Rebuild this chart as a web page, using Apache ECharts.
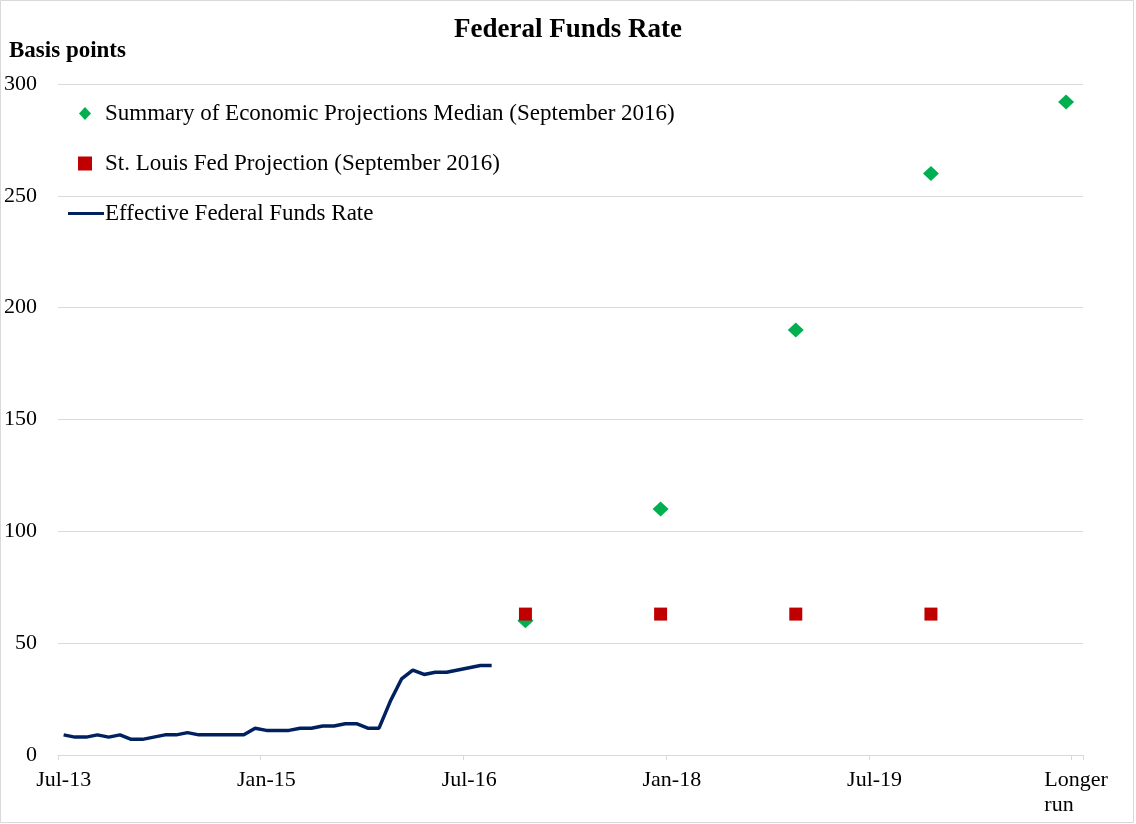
<!DOCTYPE html>
<html>
<head>
<meta charset="utf-8">
<script src="https://cdn.jsdelivr.net/npm/echarts@6/dist/echarts.min.js"></script>
<style>
html,body{margin:0;padding:0;background:#fff;}
#chart{width:1136px;height:824px;}
</style>
</head>
<body>
<div id="chart"></div>
<script>
// Monthly categories Jul-13 .. Dec-20, plus a final "Longer run" slot
const monthNames = ['Jan','Feb','Mar','Apr','May','Jun','Jul','Aug','Sep','Oct','Nov','Dec'];
const categories = [];
for (let i = 0; i < 90; i++) {
  const m = (6 + i) % 12;
  const y = 13 + Math.floor((6 + i) / 12);
  categories.push(monthNames[m] + '-' + y);
}
categories.push('Longer\nrun');

const tickLabels = ['Jul-13', 'Jan-15', 'Jul-16', 'Jan-18', 'Jul-19', 'Longer\nrun'];

// Effective Federal Funds Rate, monthly Jul-13 .. Sep-16 (basis points)
const effr = [9, 8, 8, 9, 8, 9, 7, 7, 8, 9, 9, 10, 9, 9, 9, 9, 9, 12,
              11, 11, 11, 12, 12, 13, 13, 14, 14, 12, 12, 24, 34, 38, 36, 37, 37, 38, 39, 40, 40];

const sepDates = ['Dec-16', 'Dec-17', 'Dec-18', 'Dec-19', 'Dec-20'];
const sepValues = [60, 110, 190, 260, 292];

const stlDates = ['Dec-16', 'Dec-17', 'Dec-18', 'Dec-19'];
const stlValues = [63, 63, 63, 63];

const FONT = '"Liberation Serif", "Times New Roman", serif';
const showTick = function (idx) { return tickLabels.indexOf(categories[idx]) >= 0; };

const chart = echarts.init(document.getElementById('chart'));
chart.setOption({
  backgroundColor: '#fff',
  animation: false,
  textStyle: { fontFamily: FONT, color: '#000' },
  title: [
    { text: 'Federal Funds Rate', left: 'center', top: 12,
      textStyle: { fontFamily: FONT, fontSize: 27, fontWeight: 'bold', color: '#000' } },
    { text: 'Basis points', left: 4, top: 35,
      textStyle: { fontFamily: FONT, fontSize: 23, fontWeight: 'bold', color: '#000' } }
  ],
  legend: [
    { data: ['Summary of Economic Projections Median (September 2016)'], left: 74, top: 97,
      icon: 'diamond', itemWidth: 12, itemHeight: 13,
      textStyle: { fontFamily: FONT, fontSize: 23, color: '#000', padding: [0, 0, 0, 9] } },
    { data: ['St. Louis Fed Projection (September 2016)'], left: 73, top: 147,
      icon: 'rect', itemWidth: 14, itemHeight: 14,
      textStyle: { fontFamily: FONT, fontSize: 23, color: '#000', padding: [0, 0, 0, 8] } },
    { data: ['Effective Federal Funds Rate'], left: 63, top: 197,
      itemWidth: 36, itemHeight: 3, icon: 'rect',
      textStyle: { fontFamily: FONT, fontSize: 23, color: '#000', padding: [0, 0, 0, -4] } }
  ],
  grid: { left: 58, right: 53, top: 84, bottom: 69, containLabel: false },
  xAxis: {
    type: 'category',
    data: categories,
    boundaryGap: true,
    axisLine: { show: true, lineStyle: { color: '#d9d9d9', width: 1 } },
    axisTick: { show: true, length: 5, lineStyle: { color: '#d9d9d9' }, interval: showTick },
    axisLabel: {
      interval: showTick,
      fontFamily: FONT, fontSize: 22, color: '#000', margin: 13, lineHeight: 25,
      formatter: function (v) {
        if (v.indexOf('\n') >= 0) {
          return v.split('\n').map(function (s) { return '{l|' + s + '}'; }).join('\n');
        }
        return v;
      },
      rich: { l: { width: 66, align: 'left', fontFamily: FONT, fontSize: 22, lineHeight: 25, color: '#000' } }
    },
    splitLine: { show: false }
  },
  yAxis: {
    type: 'value',
    min: 0, max: 300, interval: 50,
    axisLine: { show: false },
    axisTick: { show: false },
    axisLabel: { fontFamily: FONT, fontSize: 22, color: '#000', margin: 21 },
    splitLine: { show: true, lineStyle: { color: '#d9d9d9', width: 1 } }
  },
  series: [
    {
      name: 'Summary of Economic Projections Median (September 2016)',
      type: 'scatter',
      symbol: 'diamond',
      symbolSize: [16, 15],
      itemStyle: { color: '#00b050', opacity: 1 },
      data: sepDates.map((d, i) => [d, sepValues[i]]),
      z: 3
    },
    {
      name: 'St. Louis Fed Projection (September 2016)',
      type: 'scatter',
      symbol: 'rect',
      symbolSize: [13, 13],
      itemStyle: { color: '#c00000', opacity: 1 },
      data: stlDates.map((d, i) => [d, stlValues[i]]),
      z: 4
    },
    {
      name: 'Effective Federal Funds Rate',
      type: 'line',
      data: effr,
      showSymbol: false,
      symbol: 'none',
      lineStyle: { color: '#002060', width: 3.5 },
      itemStyle: { color: '#002060' },
      z: 2
    }
  ],
  graphic: [
    { type: 'rect', shape: { x: 0.5, y: 0.5, width: 1133, height: 822 },
      style: { fill: 'none', stroke: '#d9d9d9', lineWidth: 1 }, silent: true }
  ]
});
</script>
</body>
</html>
